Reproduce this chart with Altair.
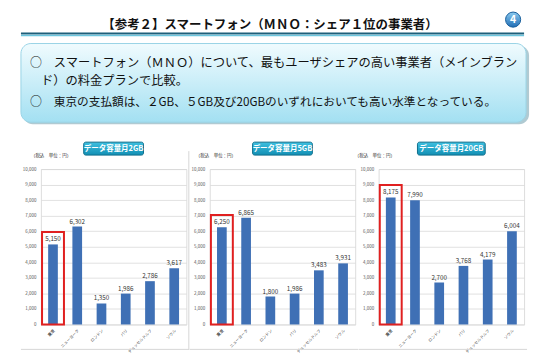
import altair as alt
import pandas as pd

# ---------------- data ----------------
cities = ["東京", "ニューヨーク", "ロンドン", "パリ", "デュッセルドルフ", "ソウル"]
price_2gb = [5150, 6302, 1350, 1986, 2786, 3617]
price_5gb = [6250, 6865, 1800, 1986, 3483, 3931]
price_20gb = [8175, 7990, 2700, 3768, 4179, 6004]
panel_titles = ["データ容量月2GB", "データ容量月5GB", "データ容量月20GB"]
y_ticks = list(range(0, 10001, 1000))

main_title = "【参考２】スマートフォン（ＭＮＯ：シェア１位の事業者）"
line1 = "スマートフォン（ＭＮＯ）について、最もユーザシェアの高い事業者（メインブラン"
line2 = "ド）の料金プランで比較。"
line3 = "東京の支払額は、２GB、５GB及び20GBのいずれにおいても高い水準となっている。"
unit_label = "（税込　単位：円）"

FONT = "Noto Sans CJK JP"
W, H = 146, 156
one = pd.DataFrame({"k": [0]})


def grad(c0, c1):
    return alt.LinearGradient(
        gradient="linear",
        stops=[alt.GradientStop(color=c0, offset=0), alt.GradientStop(color=c1, offset=1)],
        x1=0, x2=0, y1=0, y2=1,
    )


def header_layers():
    b = alt.Chart(one)
    pin = b.mark_rect(opacity=0).encode(
        x=alt.value(-32), x2=alt.value(502), y=alt.value(-159), y2=alt.value(187))
    title = b.mark_text(text=main_title, font=FONT, fontSize=12.5, fontWeight="bold",
                        color="#111111", align="center", baseline="middle").encode(
        x=alt.value(230), y=alt.value(-145))
    ul1 = b.mark_rule(color="#1d5f7a", strokeWidth=2).encode(
        x=alt.value(-20), x2=alt.value(485), y=alt.value(-136))
    ul2 = b.mark_rule(color="#6cc6de", strokeWidth=1.5).encode(
        x=alt.value(-20), x2=alt.value(485), y=alt.value(-134))
    circ = b.mark_point(shape="circle", filled=True, size=230, fill=grad("#8ccbf0", "#1f6db5"),
                        stroke="#1a5f9c", strokeWidth=1, opacity=1).encode(
        x=alt.value(474), y=alt.value(-150))
    four = b.mark_text(text="4", font=FONT, fontSize=10.5, fontWeight="bold", color="white",
                       align="center", baseline="middle").encode(x=alt.value(474), y=alt.value(-150))
    shadow = b.mark_rect(cornerRadius=10, fill="#8fb3bf", opacity=0.7).encode(
        x=alt.value(-18), x2=alt.value(490), y=alt.value(-124), y2=alt.value(-45))
    box = b.mark_rect(cornerRadius=10, fill=grad("#f0fbfe", "#a3e0f2"), stroke="#9ad4e6",
                      strokeWidth=1).encode(
        x=alt.value(-20), x2=alt.value(487), y=alt.value(-126), y2=alt.value(-47))
    tstyle = dict(font=FONT, fontSize=12, color="#111111", align="left", baseline="middle")
    b1 = b.mark_text(text="○", **tstyle).encode(x=alt.value(-11), y=alt.value(-106.5))
    t1 = b.mark_text(text=line1, font=FONT, fontSize=12.3, color="#111111", align="left",
                     baseline="middle").encode(x=alt.value(13), y=alt.value(-106.5))
    t2 = b.mark_text(text=line2, font=FONT, fontSize=12.3, color="#111111", align="left",
                     baseline="middle").encode(x=alt.value(0), y=alt.value(-88))
    b3 = b.mark_text(text="○", **tstyle).encode(x=alt.value(-11), y=alt.value(-67))
    t3 = b.mark_text(text=line3, font=FONT, fontSize=11.7, color="#111111", align="left",
                     baseline="middle").encode(x=alt.value(13), y=alt.value(-67))
    return [pin, title, ul1, ul2, circ, four, shadow, box, b1, t1, t2, b3, t3]


def y_axis():
    return alt.Axis(title=None, values=y_ticks, format=",d", labelFontSize=4.5,
                    labelColor="#555555", ticks=False, domain=False, labelPadding=5,
                    gridColor="#d9d9d9", gridWidth=0.8)


def panel(values, title, badge_w, unit_dx, first=False, left_border=False):
    df = pd.DataFrame({"city": cities, "value": values})
    base = alt.Chart(df)
    x = alt.X("city:N", sort=cities,
              scale=alt.Scale(paddingInner=0.6, paddingOuter=0.3),
              axis=alt.Axis(title=None, labelAngle=315, labelFontSize=4, labelColor="#444444",
                            labelFont=FONT, ticks=False, domain=False, labelPadding=4,
                            labelFontWeight=alt.ExprRef("datum.value == '東京' ? 'bold' : 'normal'")))
    yscale = alt.Scale(domain=[0, 10000], nice=False)
    y = alt.Y("value:Q", scale=yscale, axis=y_axis())
    bars = base.mark_bar(color="#3f70b5").encode(x=x, y=y)
    labels = base.mark_text(font=FONT, fontSize=6.3, color="#333333", baseline="bottom", dy=-2).encode(
        x=x, y=y, text=alt.Text("value:Q", format=",d"))
    hl = base.transform_filter(alt.datum.city == cities[0]).transform_calculate(
        top="datum.value + 800").mark_bar(fillOpacity=0, stroke="#e02020", strokeWidth=2, size=22).encode(
        x=x, y=alt.Y("top:Q", scale=yscale, axis=y_axis()), y2=alt.value(H + 20))
    b = alt.Chart(one)
    cx = W / 2
    badge = b.mark_rect(cornerRadius=2, fill=grad("#3ec0e0", "#128fb4"), stroke="#0f6e8c",
                        strokeWidth=1).encode(
        x=alt.value(cx - badge_w / 2), x2=alt.value(cx + badge_w / 2),
        y=alt.value(-27), y2=alt.value(-14))
    badge_t = b.mark_text(text=title, font=FONT, fontSize=7.5, fontWeight="bold", color="white",
                          align="center", baseline="middle").encode(x=alt.value(cx), y=alt.value(-20.5))
    unit = b.mark_text(text=unit_label, font=FONT, fontSize=4.5, color="#333333", align="left",
                       baseline="middle").encode(x=alt.value(unit_dx), y=alt.value(-13))
    bottom = b.mark_rule(color="#d6d6d6", strokeWidth=1).encode(
        x=alt.value(-20), x2=alt.value(W + 3), y=alt.value(H + 25))
    layers = []
    if first:
        layers += header_layers()
    layers += [bottom]
    if left_border:
        layers.append(b.mark_rule(color="#d6d6d6", strokeWidth=1).encode(
            x=alt.value(-21), y=alt.value(-18), y2=alt.value(H + 25)))
    layers += [bars, labels, hl, badge, badge_t, unit]
    return alt.layer(*layers).properties(width=W, height=H)


p1 = panel(price_2gb, panel_titles[0], 60, -10, first=True)
p2 = panel(price_5gb, panel_titles[1], 60, -14, left_border=True)
p3 = panel(price_20gb, panel_titles[2], 68, -24)

chart = alt.hconcat(p1, p2, p3, spacing=23.5, bounds="flush").properties(
    padding=0
).configure_view(stroke="transparent").configure(font=FONT)

chart.save("out.html", embed_options={"renderer": "svg", "actions": False})
